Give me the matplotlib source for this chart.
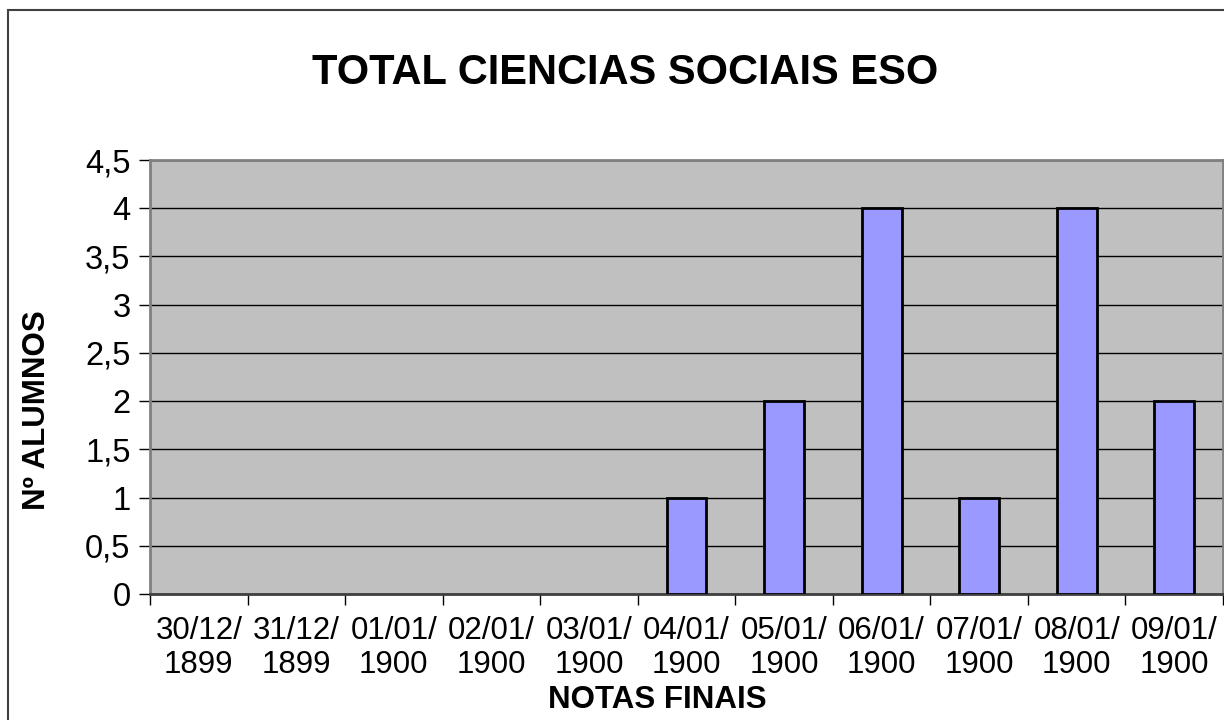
import numpy as np
import matplotlib.pyplot as plt
from matplotlib.patches import Rectangle

plt.rcParams['font.family'] = ['Liberation Sans', 'DejaVu Sans']

fechas = ["30/12/\n1899", "31/12/\n1899", "01/01/\n1900", "02/01/\n1900",
          "03/01/\n1900", "04/01/\n1900", "05/01/\n1900", "06/01/\n1900",
          "07/01/\n1900", "08/01/\n1900", "09/01/\n1900"]
alumnos = [0, 0, 0, 0, 0, 1, 2, 4, 1, 4, 2]
yticks = [0, 0.5, 1, 1.5, 2, 2.5, 3, 3.5, 4, 4.5]
ylabels = ["0", "0,5", "1", "1,5", "2", "2,5", "3", "3,5", "4", "4,5"]

fig = plt.figure(figsize=(12.24, 7.2), dpi=100)
fig.patches.append(Rectangle((8 / 1224, -0.01), 1.05, 1 - 10 / 720 + 0.01,
                             transform=fig.transFigure, fill=False,
                             edgecolor="#404040", linewidth=1.5))

ax = fig.add_axes([150 / 1224, 126 / 720, 1073 / 1224, 434 / 720])
ax.set_facecolor("#c0c0c0")
x = np.arange(len(fechas))
# excel draws nothing for the empty categories
bordes = [2 if v > 0 else 0 for v in alumnos]
ax.bar(x, alumnos, width=0.41, color="#9999ff", edgecolor="black",
       linewidth=bordes, zorder=3)

ax.set_xlim(-0.5, len(fechas) - 0.5)
ax.set_ylim(0, 4.5)
ax.set_yticks(yticks)
ax.set_yticklabels(ylabels, fontsize=23.5)
ax.yaxis.grid(True, color="black", linewidth=1)
ax.set_axisbelow(True)

ax.set_xticks(np.arange(len(fechas) + 1) - 0.5)
ax.set_xticklabels([])
ax.set_xticks(x, minor=True)
ax.set_xticklabels(fechas, minor=True, fontsize=22.5, linespacing=1.15)
ax.tick_params(axis="x", which="minor", length=0, pad=16)
ax.tick_params(axis="x", which="major", length=8, width=1, direction="out")
ax.tick_params(axis="y", length=8, width=1, direction="out", pad=6)

for side in ["top", "right", "left"]:
    ax.spines[side].set_color("#808080")
    ax.spines[side].set_linewidth(2)
ax.spines["bottom"].set_color("#404040")
ax.spines["bottom"].set_linewidth(2)

fig.text(625 / 1224, 1 - 73 / 720, "TOTAL CIENCIAS SOCIAIS ESO",
         fontsize=30, fontweight="bold", ha="center", va="center")
fig.text(37 / 1224, 1 - 410 / 720, "Nº ALUMNOS", fontsize=22.5,
         fontweight="bold", rotation=90, ha="center", va="center")
fig.text(657 / 1224, 1 - 700 / 720, "NOTAS FINAIS", fontsize=22.5,
         fontweight="bold", ha="center", va="center")

fig.savefig("out.png", dpi=100)
